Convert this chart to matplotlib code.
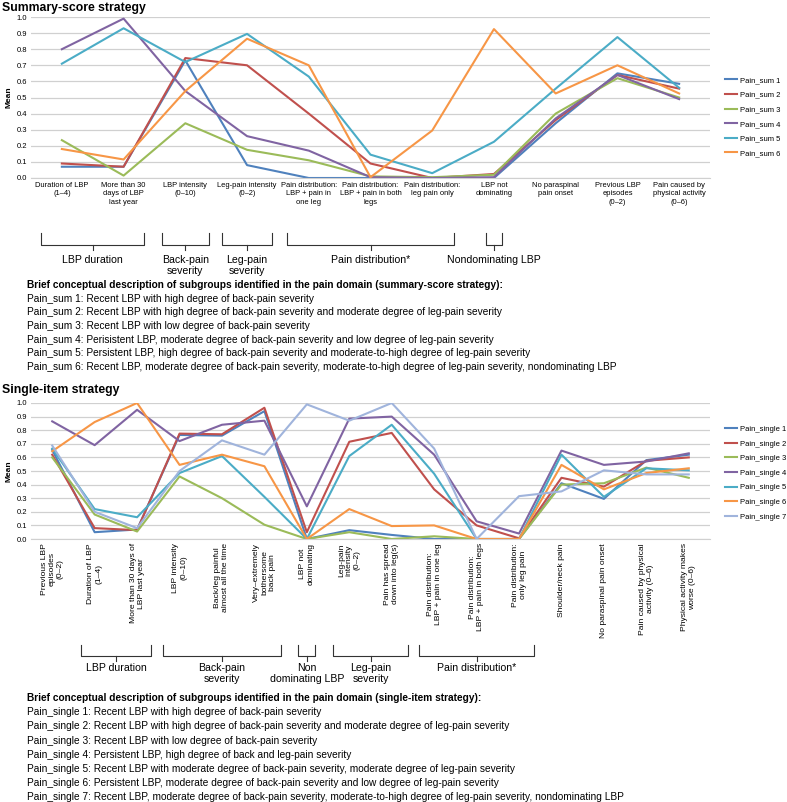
import numpy as np
import matplotlib
matplotlib.use("Agg")
import matplotlib.pyplot as plt

plt.rcParams['font.family'] = ['Liberation Sans', 'DejaVu Sans']

# ---- summary-score strategy ----
sum_items = ["Duration of LBP\n(1\u20134)", "More than 30\ndays of LBP\nlast year",
             "LBP intensity\n(0\u201310)", "Leg-pain intensity\n(0\u20132)",
             "Pain distribution:\nLBP + pain in\none leg", "Pain distribution:\nLBP + pain in both\nlegs",
             "Pain distribution:\nleg pain only", "LBP not\ndominating", "No paraspinal\npain onset",
             "Previous LBP\nepisodes\n(0\u20132)", "Pain caused by\nphysical activity\n(0\u20136)"]
pain_sum_1 = [0.07, 0.07, 0.73, 0.08, 0.0, 0.0, 0.0, 0.0, 0.34, 0.65, 0.585]
pain_sum_2 = [0.09, 0.07, 0.745, 0.70, 0.40, 0.09, 0.0, 0.025, 0.36, 0.64, 0.555]
pain_sum_3 = [0.235, 0.015, 0.34, 0.175, 0.11, 0.01, 0.005, 0.02, 0.40, 0.62, 0.50]
pain_sum_4 = [0.80, 0.99, 0.54, 0.26, 0.17, 0.005, 0.0, 0.005, 0.37, 0.64, 0.49]
pain_sum_5 = [0.71, 0.93, 0.72, 0.895, 0.63, 0.145, 0.03, 0.225, 0.555, 0.875, 0.56]
pain_sum_6 = [0.18, 0.115, 0.54, 0.865, 0.70, 0.005, 0.295, 0.925, 0.525, 0.70, 0.525]
sum_series = [pain_sum_1, pain_sum_2, pain_sum_3, pain_sum_4, pain_sum_5, pain_sum_6]
sum_names = ["Pain_sum 1", "Pain_sum 2", "Pain_sum 3", "Pain_sum 4", "Pain_sum 5", "Pain_sum 6"]
sum_groups = [("LBP duration", 0, 1), ("Back-pain\nseverity", 2, 2), ("Leg-pain\nseverity", 3, 3),
              ("Pain distribution*", 4, 6), ("Nondominating LBP", 7, 7)]
sum_pads = [0.33, 0.38, 0.4, 0.35, 0.13]
sum_desc = ["Pain_sum 1: Recent LBP with high degree of back-pain severity",
            "Pain_sum 2: Recent LBP with high degree of back-pain severity and moderate degree of leg-pain severity",
            "Pain_sum 3: Recent LBP with low degree of back-pain severity",
            "Pain_sum 4: Perisistent LBP, moderate degree of back-pain severity and low degree of leg-pain severity",
            "Pain_sum 5: Persistent LBP, high degree of back-pain severity and moderate-to-high degree of leg-pain severity",
            "Pain_sum 6: Recent LBP, moderate degree of back-pain severity, moderate-to-high degree of leg-pain severity, nondominating LBP"]

# ---- single-item strategy ----
single_items = ["Previous LBP\nepisodes\n(0\u20132)", "Duration of LBP\n(1\u20134)",
                "More than 30 days of\nLBP last year", "LBP intensity\n(0\u201310)",
                "Back/leg painful\nalmost all the time", "Very\u2013extremely\nbothersome\nback pain",
                "LBP not\ndominating", "Leg-pain\nintensity\n(0\u20132)", "Pain has spread\ndown into leg(s)",
                "Pain distribution:\nLBP + pain in one leg", "Pain distribution:\nLBP + pain in both legs",
                "Pain distribution:\nonly leg pain", "Shoulder/neck pain", "No paraspinal pain onset",
                "Pain caused by physical\nactivity (0\u20136)", "Physical activity makes\nworse (0\u20136)"]
pain_single_1 = [0.655, 0.05, 0.07, 0.765, 0.76, 0.94, 0.0, 0.065, 0.03, 0.0, 0.0, 0.0, 0.41, 0.295, 0.58, 0.62]
pain_single_2 = [0.62, 0.08, 0.065, 0.775, 0.77, 0.965, 0.05, 0.715, 0.78, 0.365, 0.10, 0.005, 0.45, 0.385, 0.575, 0.60]
pain_single_3 = [0.60, 0.18, 0.055, 0.46, 0.30, 0.105, 0.0, 0.05, 0.0, 0.02, 0.0, 0.0, 0.40, 0.41, 0.525, 0.45]
pain_single_4 = [0.865, 0.69, 0.95, 0.72, 0.84, 0.87, 0.24, 0.885, 0.90, 0.62, 0.13, 0.04, 0.65, 0.545, 0.57, 0.63]
pain_single_5 = [0.665, 0.22, 0.16, 0.485, 0.61, 0.31, 0.0, 0.61, 0.84, 0.48, 0.0, 0.0, 0.62, 0.31, 0.52, 0.505]
pain_single_6 = [0.645, 0.86, 1.0, 0.545, 0.62, 0.535, 0.0, 0.22, 0.095, 0.10, 0.0, 0.0, 0.545, 0.365, 0.485, 0.52]
pain_single_7 = [0.687, 0.20, 0.08, 0.50, 0.725, 0.62, 0.99, 0.87, 1.0, 0.665, 0.0, 0.315, 0.35, 0.505, 0.475, 0.475]
single_series = [pain_single_1, pain_single_2, pain_single_3, pain_single_4,
                 pain_single_5, pain_single_6, pain_single_7]
single_names = ["Pain_single %d" % i for i in range(1, 8)]
single_groups = [("LBP duration", 1, 2), ("Back-pain\nseverity", 3, 5), ("Non\ndominating LBP", 6, 6),
                 ("Leg-pain\nseverity", 7, 8), ("Pain distribution*", 9, 11)]
single_pads = [0.33, 0.38, 0.2, 0.38, 0.35]
single_desc = ["Pain_single 1: Recent LBP with high degree of back-pain severity",
               "Pain_single 2: Recent LBP with high degree of back-pain severity and moderate degree of leg-pain severity",
               "Pain_single 3: Recent LBP with low degree of back-pain severity",
               "Pain_single 4: Persistent LBP, high degree of back and leg-pain severity",
               "Pain_single 5: Recent LBP with moderate degree of back-pain severity, moderate degree of leg-pain severity",
               "Pain_single 6: Persistent LBP, moderate degree of back-pain severity and low degree of leg-pain severity",
               "Pain_single 7: Recent LBP, moderate degree of back-pain severity, moderate-to-high degree of leg-pain severity, nondominating LBP"]

colors = ["#4F81BD", "#C0504D", "#9BBB59", "#8064A2", "#4BACC6", "#F79646", "#A0B4DC"]

W, H = 787, 802
fig = plt.figure(figsize=(W / 100, H / 100), dpi=100)


def fx(px):
    return px / W


def fy(py):
    return 1 - py / H


def make_panel(top, bottom, items, series, names, rotate, leg_y):
    ax = fig.add_axes([fx(31), fy(bottom), fx(710) - fx(31), fy(top) - fy(bottom)])
    x = np.arange(len(items))
    for s, name, c in zip(series, names, colors):
        ax.plot(x, s, color=c, lw=1.5, label=name)
    ax.set_xlim(-0.5, len(items) - 0.5)
    ax.set_ylim(0, 1.0)
    ticks = np.arange(0, 1.01, 0.1)
    ax.set_yticks(ticks)
    ax.set_yticklabels(["%.1f" % v for v in ticks], fontsize=5.5)
    ax.grid(axis='y', color='#d0d0d0', lw=0.9)
    ax.set_axisbelow(True)
    for sp in ['top', 'right', 'left']:
        ax.spines[sp].set_visible(False)
    ax.spines['bottom'].set_color('#d0d0d0')
    ax.tick_params(length=0, pad=3)
    ax.set_xticks(x)
    if rotate:
        ax.set_xticklabels(items, rotation=90, fontsize=6.1, ha='center', va='top',
                           multialignment='center')
    else:
        ax.set_xticklabels(items, fontsize=5.4, linespacing=1.25)
    ax.set_ylabel("Mean", fontsize=6, fontweight='bold', labelpad=3)
    ax.legend(loc='center left', bbox_to_anchor=(1.016, leg_y),
              frameon=False, fontsize=5.5, handlelength=1.6, handletextpad=0.45,
              labelspacing=0.95, borderpad=0)
    return ax


def brackets(ax, groups, pads, y_top, y_bot, label_y):
    tr = ax.get_xaxis_transform()
    h = ax.get_position().height * H
    ax0 = H - ax.get_position().y0 * H
    to_ax = lambda py: (ax0 - py) / h
    for (label, i0, i1), pad in zip(groups, pads):
        a, b = i0 - pad, i1 + pad
        m = (a + b) / 2
        ax.plot([a, a, b, b], [to_ax(y_top), to_ax(y_bot), to_ax(y_bot), to_ax(y_top)],
                transform=tr, color='#333333', lw=0.8, clip_on=False)
        ax.plot([m, m], [to_ax(y_bot), to_ax(y_bot + 5)], transform=tr, color='#333333',
                lw=0.8, clip_on=False)
        ax.text(m, to_ax(label_y), label, transform=tr, ha='center', va='top',
                fontsize=7.6, linespacing=1.15)


def descriptions(head, lines, y0, step):
    fig.text(fx(27), fy(y0), head, fontsize=7.3, fontweight='bold', va='center')
    for k, t in enumerate(lines):
        fig.text(fx(27), fy(y0 + step * (k + 1)), t, fontsize=7.3, va='center')


fig.text(fx(2), fy(8), "Summary-score strategy", fontsize=8.8, fontweight='bold', va='center')
ax1 = make_panel(17, 178, sum_items, sum_series, sum_names, False, 0.38)
brackets(ax1, sum_groups, sum_pads, 233, 245, 255)
descriptions("Brief conceptual description of subgroups identified in the pain domain (summary-score strategy):",
             sum_desc, 285, 13.7)

fig.text(fx(2), fy(390), "Single-item strategy", fontsize=8.8, fontweight='bold', va='center')
ax2 = make_panel(403, 539, single_items, single_series, single_names, True, 0.485)
brackets(ax2, single_groups, single_pads, 645, 656, 663)
descriptions("Brief conceptual description of subgroups identified in the pain domain (single-item strategy):",
             single_desc, 698, 14.2)

fig.savefig("out.png", dpi=100)
